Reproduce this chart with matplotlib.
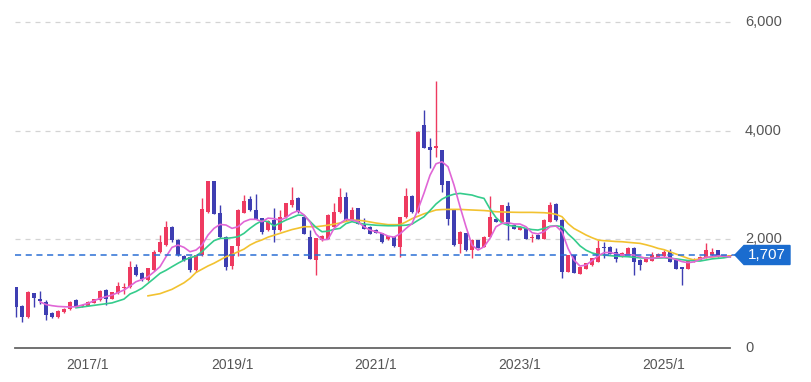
import numpy as np
import matplotlib
matplotlib.use("Agg")
import matplotlib.pyplot as plt
from matplotlib.patches import Polygon
import matplotlib.transforms as mtransforms

plt.rcParams['font.family'] = ['Liberation Sans', 'DejaVu Sans']

# ---- monthly candles 2016/1 .. 2025/12 ----
opens = [1110, 770, 580, 1010, 900, 850, 640, 570, 670, 720,
         880, 770, 780, 835, 885, 1065, 915, 1020, 1100, 1130,
         1496, 1374, 1260, 1435, 1772, 1895, 2220, 1987, 1693, 1680,
         1435, 1711, 2508, 3061, 2478, 2048, 1520, 1877, 2490, 2735,
         2527, 2386, 2171, 2355, 2171, 2416, 2631, 2754, 2416, 2048,
         1619, 1987, 2018, 2232, 2508, 2772, 2355, 2570, 2263, 2232,
         2171, 2110, 2010, 2048, 1864, 2416, 2797, 2508, 4103, 3692,
         3690, 3631, 3061, 2527, 1926, 2110, 1803, 1975, 1864, 2048,
         2368, 2325, 2613, 2263, 2184, 2202, 2030, 2079, 2018, 2325,
         2650, 2355, 1404, 1711, 1374, 1466, 1527, 1588, 1850, 1864,
         1772, 1693, 1742, 1834, 1620, 1590, 1610, 1680, 1693, 1754,
         1610, 1480, 1466, 1600, 1632, 1668, 1711, 1791, 1690, 1690]
highs = [1120, 790, 1050, 1020, 1040, 880, 660, 700, 730, 870,
         900, 800, 870, 910, 1075, 1080, 1030, 1220, 1190, 1600,
         1540, 1390, 1480, 1800, 2080, 2343, 2250, 2000, 1720, 1700,
         1720, 2754, 3070, 3070, 2631, 2060, 1880, 2560, 2815, 2790,
         2839, 2400, 2360, 2570, 2540, 2670, 2968, 2770, 2450, 2171,
         2030, 2080, 2460, 2662, 2938, 2876, 2600, 2580, 2400, 2250,
         2190, 2120, 2070, 2060, 2420, 2938, 2810, 4000, 4379, 3858,
         4919, 3650, 3070, 2540, 2150, 2120, 2000, 1990, 2060, 2797,
         2400, 2640, 2692, 2275, 2240, 2210, 2100, 2090, 2370, 2693,
         2660, 2370, 1720, 1720, 1500, 1570, 1660, 1987, 1956, 1880,
         1834, 1760, 1850, 1850, 1630, 1680, 1760, 1750, 1800, 1816,
         1620, 1490, 1600, 1660, 1700, 1926, 1834, 1800, 1720, 1720]
lows = [565, 470, 560, 760, 810, 520, 560, 555, 650, 700,
        750, 750, 770, 820, 870, 785, 900, 1000, 1000, 1100,
        1330, 1240, 1240, 1420, 1750, 1880, 1960, 1690, 1600, 1400,
        1390, 1700, 2480, 2470, 2030, 1435, 1450, 1700, 2480, 2520,
        2370, 2100, 2150, 1956, 2150, 2400, 2600, 2490, 2090, 1640,
        1343, 1970, 2000, 2220, 2490, 2340, 2340, 2280, 2190, 2100,
        2110, 1940, 1990, 1860, 1680, 2400, 2490, 2490, 3680, 3306,
        3520, 2876, 2263, 1880, 1742, 1790, 1650, 1840, 1850, 2040,
        2310, 2310, 1990, 2190, 2170, 2000, 1950, 2000, 2000, 2310,
        2340, 1282, 1390, 1380, 1360, 1450, 1510, 1580, 1650, 1730,
        1588, 1680, 1730, 1343, 1440, 1580, 1600, 1670, 1680, 1580,
        1460, 1160, 1450, 1590, 1620, 1660, 1700, 1680, 1670, 1680]
closes = [760, 580, 1020, 930, 870, 610, 570, 670, 720, 850,
          760, 785, 850, 895, 1050, 915, 1020, 1130, 1120, 1496,
          1343, 1282, 1466, 1754, 1950, 2232, 1987, 1711, 1619, 1447,
          1711, 2551, 3061, 2478, 2048, 1496, 1870, 2539, 2693, 2539,
          2386, 2140, 2325, 2171, 2416, 2662, 2723, 2508, 2110, 1650,
          2018, 2061, 2447, 2490, 2772, 2355, 2539, 2294, 2202, 2110,
          2122, 1956, 2060, 1877, 2416, 2797, 2508, 3980, 3692, 3643,
          3720, 2999, 2386, 1895, 2140, 1803, 1987, 1852, 2048, 2416,
          2325, 2631, 2294, 2202, 2232, 2018, 2048, 2018, 2355, 2631,
          2355, 1404, 1711, 1390, 1496, 1558, 1650, 1834, 1840, 1742,
          1650, 1742, 1834, 1588, 1540, 1670, 1700, 1735, 1772, 1588,
          1466, 1466, 1590, 1640, 1680, 1791, 1772, 1693, 1711, 1707]

nan = np.nan
# moving-average lines
ma_short = [nan, nan, nan, nan, 850, 800, 779, 765, 760, 755,
            760, 790, 821, 870, 914, 945, 975, 1020, 1067, 1140,
            1220, 1260, 1312, 1400, 1496, 1680, 1852, 1895, 1852, 1772,
            1803, 1895, 2079, 2202, 2275, 2263, 2202, 2232, 2325, 2368,
            2368, 2325, 2390, 2380, 2355, 2400, 2480, 2527, 2450, 2320,
            2100, 1990, 2000, 2200, 2294, 2368, 2355, 2325, 2232, 2171,
            2140, 2110, 2060, 2040, 2100, 2200, 2290, 2550, 2850, 3180,
            3390, 3428, 3336, 2999, 2601, 2232, 1895, 1803, 1864, 2018,
            2232, 2294, 2306, 2282, 2282, 2232, 2122, 2100, 2140, 2232,
            2245, 2140, 1834, 1619, 1508, 1527, 1607, 1693, 1754, 1760,
            1730, 1711, 1720, 1711, 1680, 1650, 1650, 1665, 1670, 1660,
            1630, 1590, 1570, 1585, 1632, 1668, 1680, 1693, 1690, 1675]
ma_mid = [nan, nan, nan, nan, nan, nan, nan, nan, nan, nan,
          740, 755, 770, 785, 800, 815, 830, 865, 900, 994,
          1040, 1100, 1190, 1280, 1374, 1430, 1496, 1560, 1619, 1660,
          1693, 1772, 1877, 1975, 2018, 2018, 2030, 2048, 2110, 2202,
          2282, 2343, 2325, 2245, 2300, 2355, 2400, 2447, 2440, 2330,
          2220, 2140, 2150, 2184, 2202, 2290, 2325, 2300, 2280, 2270,
          2260, 2255, 2250, 2250, 2255, 2260, 2280, 2350, 2416, 2530,
          2650, 2740, 2797, 2830, 2846, 2830, 2815, 2780, 2754, 2560,
          2400, 2300, 2260, 2240, 2230, 2200, 2180, 2171, 2200, 2240,
          2250, 2232, 2100, 2000, 1880, 1800, 1750, 1720, 1711, 1700,
          1690, 1685, 1680, 1670, 1660, 1655, 1650, 1655, 1660, 1650,
          1640, 1625, 1610, 1605, 1600, 1620, 1640, 1650, 1660, 1680]
ma_long = [nan] * 22 + [
    960, 980, 1000, 1040, 1080, 1140, 1200, 1282,
    1390, 1450, 1510, 1560, 1620, 1680, 1720, 1770, 1820, 1895,
    1950, 1990, 2040, 2075, 2110, 2145, 2180, 2205, 2232, 2232,
    2232, 2245, 2260, 2280, 2300, 2330, 2355, 2350, 2340, 2320,
    2300, 2285, 2270, 2270, 2270, 2320, 2380, 2425, 2470, 2505,
    2540, 2548, 2551, 2551, 2551, 2545, 2540, 2535, 2530, 2520,
    2508, 2504, 2500, 2498, 2496, 2496, 2496, 2493, 2490, 2480,
    2460, 2416, 2290, 2200, 2140, 2080, 2030, 1987, 1975, 1968,
    1960, 1956, 1945, 1935, 1926, 1900, 1870, 1834, 1810, 1770,
    1730, 1690, 1650, 1620, 1640, 1665, 1675, 1685, 1690, 1695]

last_price = 1707
x_labels = ['2017/1', '2019/1', '2021/1', '2023/1', '2025/1']
x_label_pos = [12, 36, 60, 84, 108]
y_ticks = [0, 2000, 4000, 6000]

RED = '#ee3a60'
BLUE = '#3e3eb2'

W, H = 812, 382
fig = plt.figure(figsize=(W / 100, H / 100), dpi=100)
ax = fig.add_axes([15 / W, 34 / H, 720 / W, 338 / H])
ax.set_xlim(-1 / 6, 120 - 1 / 6)
ax.set_ylim(0, 6000 * 338 / 326)
for s in ax.spines.values():
    s.set_visible(False)
ax.set_xticks([])
ax.set_yticks([])

# grid
for v in y_ticks[1:]:
    ax.axhline(v, color='#d4d4d4', lw=0.9, ls=(0, (4, 4)), zorder=0)

# candles
x = np.arange(len(opens))
o = np.array(opens); c = np.array(closes)
up = c >= o
cols = np.where(up, RED, BLUE)
ax.vlines(x, lows, highs, colors=cols, lw=1.0, zorder=2)
ax.bar(x, np.abs(c - o) + 8, bottom=np.minimum(o, c) - 4, width=0.8,
       color=cols, lw=0, zorder=3)

# moving averages
ax.plot(x, ma_long, color='#f2c230', lw=1.2, zorder=4)
ax.plot(x, ma_mid, color='#35cc8c', lw=1.2, zorder=4)
ax.plot(x, ma_short, color='#e066d6', lw=1.2, zorder=5)

# current price line
ax.axhline(last_price, color='#2b6fd4', lw=1.1, ls=(0, (4, 3)), zorder=6)

# bottom axis line
ax.plot([-1 / 6, 119.0], [0, 0], color='#666666', lw=1.3, clip_on=False, zorder=6)

# right labels
tr = mtransforms.blended_transform_factory(fig.transFigure, ax.transData)
for v in y_ticks:
    ax.text(745 / W, v, f'{v:,}', transform=tr, ha='left', va='center',
            fontsize=10.5, color='#555555')

for p, lab in zip(x_label_pos, x_labels):
    ax.text(p, -310, lab, ha='center', va='center', fontsize=10,
            color='#555555', clip_on=False)

# price tag
yc = 1 - 255 / H
pts = [(735, 255), (744, 245.5), (790, 245.5), (790, 264.5), (744, 264.5)]
poly = Polygon([(px / W, 1 - py / H) for px, py in pts], closed=True,
               transform=fig.transFigure, color='#1a6ccf', zorder=10)
fig.patches.append(poly)
fig.text(767 / W, yc, f'{last_price:,}', ha='center', va='center',
         fontsize=11, color='white', zorder=11)

fig.savefig('out.png', dpi=100, facecolor='white')
